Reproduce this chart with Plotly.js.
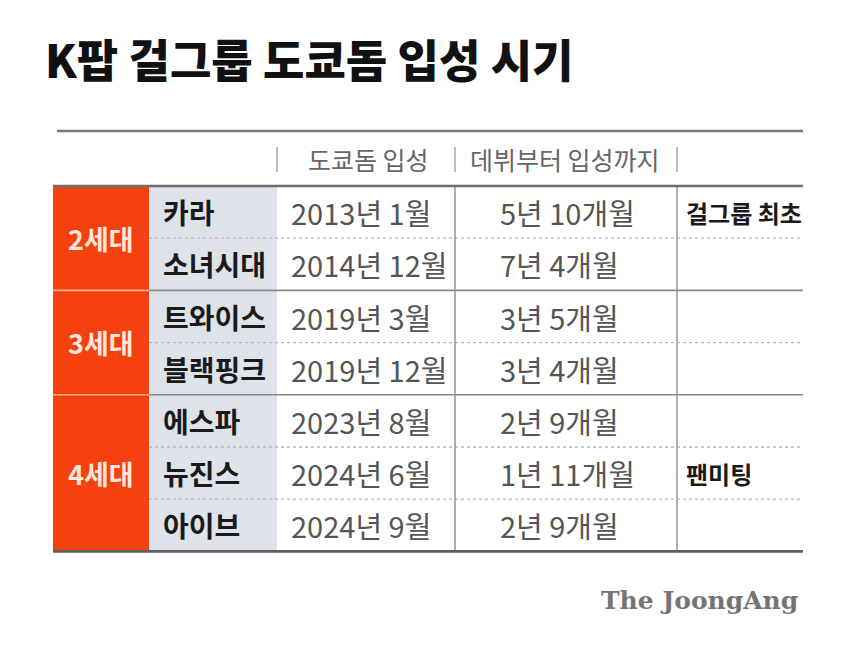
<!DOCTYPE html>
<html>
<head>
<meta charset="utf-8">
<script src="https://cdn.plot.ly/plotly-3.0.1.min.js"></script>
<style>html,body{margin:0;padding:0;background:#fff;}#chart{width:850px;height:650px;}</style>
</head>
<body>
<div id="chart"></div>
<script>
// ---- data ----
const titleText = 'K팝 걸그룹 도쿄돔 입성 시기';
const headers = ['도쿄돔 입성', '데뷔부터 입성까지'];
const generations = ['2세대', '3세대', '4세대'];
const generationSizes = [2, 2, 3];
const groups = ['카라', '소녀시대', '트와이스', '블랙핑크', '에스파', '뉴진스', '아이브'];
const domeDates = ['2013년 1월', '2014년 12월', '2019년 3월', '2019년 12월', '2023년 8월', '2024년 6월', '2024년 9월'];
const debutToDome = ['5년 10개월', '7년 4개월', '3년 5개월', '3년 4개월', '2년 9개월', '1년 11개월', '2년 9개월'];
const notes = ['걸그룹 최초', '', '', '', '', '팬미팅', ''];
const sourceText = 'The JoongAng';

// ---- layout constants (pixel space) ----
const KR = '"Noto Sans CJK KR", "Noto Sans", sans-serif';
const ORANGE = '#F5400F';
const SHADE = '#DEE3EA';
const tableLeft = 53, tableRight = 803;
const colGen = [53, 149], colName = [149, 277], colDate = [277, 455], colDur = [455, 677], colNote = [677, 803];
const topRule = 131, headTop = 131, headBottom = 186;
const rowH = 52.2;
const bodyTop = 186;
const nRows = groups.length;
const bodyBottom = bodyTop + rowH * nRows;

const shapes = [];
const annotations = [];

function rowY(i) { return bodyTop + rowH * i; }

// name column shading
shapes.push({type: 'rect', xref: 'x', yref: 'y', x0: colName[0], x1: colName[1], y0: bodyTop, y1: bodyBottom,
  fillcolor: SHADE, line: {width: 0}, layer: 'below'});

// generation blocks
let start = 0;
const genBounds = [];
generations.forEach((g, k) => {
  const y0 = rowY(start), y1 = rowY(start + generationSizes[k]);
  shapes.push({type: 'rect', xref: 'x', yref: 'y', x0: colGen[0], x1: colGen[1], y0: y0, y1: y1,
    fillcolor: ORANGE, line: {width: 0}, layer: 'below'});
  annotations.push({x: (colGen[0] + colGen[1]) / 2, y: (y0 + y1) / 2, xref: 'x', yref: 'y', text: g,
    showarrow: false, xanchor: 'center', yanchor: 'middle',
    font: {family: KR, size: 27, color: '#FFE6DA', weight: 'bold'}});
  genBounds.push(y1);
  start += generationSizes[k];
});

// horizontal row lines
for (let i = 1; i < nRows; i++) {
  const y = rowY(i);
  const isGen = genBounds.some(b => Math.abs(b - y) < 0.01);
  if (isGen) {
    shapes.push({type: 'line', xref: 'x', yref: 'y', x0: colName[0], x1: tableRight, y0: y, y1: y,
      line: {color: '#8a8a8a', width: 1.6}});
    shapes.push({type: 'line', xref: 'x', yref: 'y', x0: colGen[0], x1: colGen[1], y0: y, y1: y,
      line: {color: '#FFB08F', width: 1.6}});
  } else {
    shapes.push({type: 'line', xref: 'x', yref: 'y', x0: colName[0], x1: tableRight, y0: y, y1: y,
      line: {color: '#b8b8b8', width: 1.3, dash: 'dot'}});
  }
}

// vertical lines in body
[colDur[0], colNote[0]].forEach(x => {
  shapes.push({type: 'line', xref: 'x', yref: 'y', x0: x, x1: x, y0: bodyTop, y1: bodyBottom,
    line: {color: '#8f8f8f', width: 1.4}});
});

// header pipes
[colDate[0], colDur[0], colNote[0]].forEach(x => {
  shapes.push({type: 'line', xref: 'x', yref: 'y', x0: x, x1: x, y0: 147, y1: 172,
    line: {color: '#a0a0a0', width: 1.4}});
});

// rules
shapes.push({type: 'line', xref: 'x', yref: 'y', x0: 57, x1: tableRight, y0: topRule, y1: topRule,
  line: {color: '#7a7a7a', width: 2.6}});
shapes.push({type: 'line', xref: 'x', yref: 'y', x0: tableLeft, x1: tableRight, y0: headBottom, y1: headBottom,
  line: {color: '#6e6e6e', width: 2.6}});
shapes.push({type: 'line', xref: 'x', yref: 'y', x0: tableLeft, x1: tableRight, y0: bodyBottom, y1: bodyBottom,
  line: {color: '#5e5e5e', width: 2.6}});

// headers
const headerX = [(colDate[0] + colDur[0]) / 2 + 2, (colDur[0] + colNote[0]) / 2 - 1];
headers.forEach((h, k) => {
  annotations.push({x: headerX[k], y: (headTop + headBottom) / 2, xref: 'x', yref: 'y', text: h,
    showarrow: false, xanchor: 'center', yanchor: 'middle',
    font: {family: KR, size: 25, color: '#666666'}});
});

// body text
groups.forEach((g, i) => {
  const yc = rowY(i) + rowH / 2;
  annotations.push({x: 161, y: yc, xref: 'x', yref: 'y', text: g, showarrow: false,
    xanchor: 'left', yanchor: 'middle', font: {family: KR, size: 28, color: '#1a1a1a', weight: 'bold'}});
  annotations.push({x: 289, y: yc, xref: 'x', yref: 'y', text: domeDates[i], showarrow: false,
    xanchor: 'left', yanchor: 'middle', font: {family: KR, size: 29, color: '#555555'}});
  annotations.push({x: 498, y: yc, xref: 'x', yref: 'y', text: debutToDome[i], showarrow: false,
    xanchor: 'left', yanchor: 'middle', font: {family: KR, size: 29, color: '#555555'}});
  if (notes[i]) {
    annotations.push({x: 684, y: yc, xref: 'x', yref: 'y', text: notes[i], showarrow: false,
      xanchor: 'left', yanchor: 'middle', font: {family: KR, size: 24, color: '#1a1a1a', weight: 'bold'}});
  }
});

// title
annotations.push({x: 43, y: 58, xref: 'x', yref: 'y', text: titleText, showarrow: false,
  xanchor: 'left', yanchor: 'middle', font: {family: KR, size: 45, color: '#111111', weight: 900}});

// source logo
annotations.push({x: 800, y: 600, xref: 'x', yref: 'y', text: sourceText, showarrow: false,
  xanchor: 'right', yanchor: 'middle', font: {family: '"DejaVu Serif", serif', size: 25, color: '#747474', weight: 'bold'}});

const layout = {
  width: 850, height: 650,
  margin: {l: 0, r: 0, t: 0, b: 0, pad: 0},
  paper_bgcolor: '#ffffff', plot_bgcolor: '#ffffff',
  showlegend: false,
  xaxis: {range: [0, 850], visible: false, fixedrange: true},
  yaxis: {range: [650, 0], visible: false, fixedrange: true},
  shapes: shapes,
  annotations: annotations
};

Plotly.newPlot('chart', [{x: [], y: [], type: 'scatter', mode: 'markers', hoverinfo: 'skip'}], layout,
  {staticPlot: true, displayModeBar: false});
</script>
</body>
</html>
